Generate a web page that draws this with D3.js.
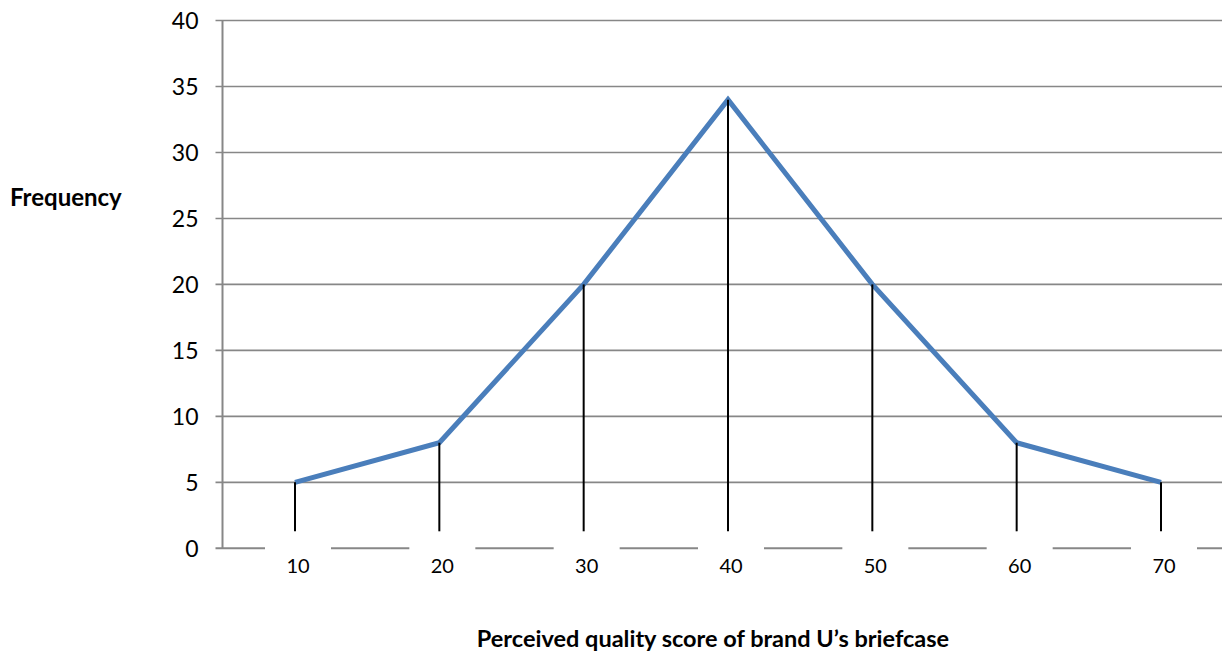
<!DOCTYPE html>
<html>
<head>
<meta charset="utf-8">
<script src="https://cdn.jsdelivr.net/npm/d3@7/dist/d3.min.js"></script>
<style>
  html, body { margin: 0; padding: 0; background: #fff; }
  svg { display: block; }
</style>
</head>
<body>
<svg id="chart" width="1224" height="664"></svg>
<script>
// Frequency polygon of quality scores
const scores = [10, 20, 30, 40, 50, 60, 70];
const frequencies = [5, 8, 20, 34, 20, 8, 5];
const yTicks = [0, 5, 10, 15, 20, 25, 30, 35, 40];
const xTickLabels = ["10", "20", "30", "40", "50", "60", "70"];
const xTitle = "Perceived quality score of brand U\u2019s briefcase";
const yTitle = "Frequency";

const svg = d3.select("#chart");
const font = "Lato, 'Open Sans', sans-serif";
const gridColor = "#878787";

const plot = { left: 222.5, right: 1222, top: 20.5, bottom: 548.3 };

const x = d3.scaleLinear().domain([10, 70]).range([295, 1161]);
const y = d3.scaleLinear().domain([0, 40]).range([plot.bottom, plot.top]);

// horizontal gridlines (the 0 line is the x-axis)
svg.append("g")
  .selectAll("line")
  .data(yTicks)
  .join("line")
  .attr("x1", plot.left - 7)
  .attr("x2", plot.right)
  .attr("y1", d => y(d))
  .attr("y2", d => y(d))
  .attr("stroke", gridColor)
  .attr("stroke-width", d => d === 0 ? 2 : 1.6);

// y-axis line
svg.append("line")
  .attr("x1", plot.left).attr("x2", plot.left)
  .attr("y1", plot.top).attr("y2", plot.bottom)
  .attr("stroke", gridColor)
  .attr("stroke-width", 2);

// y tick labels
const yAxis = d3.axisLeft(y).tickValues(yTicks).tickSize(0).tickPadding(0);
const gy = svg.append("g").attr("transform", `translate(${plot.left - 24},0)`).call(yAxis);
gy.select(".domain").remove();
gy.selectAll("text")
  .attr("font-family", font)
  .attr("font-size", 23)
  .attr("fill", "#000")
  .attr("dy", "0.36em");

// x tick labels sit on white boxes that break the axis line
const xLabels = svg.append("g")
  .selectAll("g")
  .data(scores)
  .join("g")
  .attr("transform", d => `translate(${x(d) + 3},${plot.bottom})`);

xLabels.append("rect")
  .attr("x", -33)
  .attr("y", -6)
  .attr("width", 66)
  .attr("height", 34)
  .attr("fill", "#fff");

xLabels.append("text")
  .text((d, i) => xTickLabels[i])
  .attr("text-anchor", "middle")
  .attr("y", 25)
  .attr("font-family", font)
  .attr("font-size", 20)
  .attr("fill", "#000");

// frequency polygon
const line = d3.line()
  .x((d, i) => x(scores[i]))
  .y(d => y(d));

svg.append("path")
  .datum(frequencies)
  .attr("d", line)
  .attr("fill", "none")
  .attr("stroke", "#4a7ebb")
  .attr("stroke-width", 5)
  .attr("stroke-linejoin", "miter");

// drop lines from each vertex
svg.append("g")
  .selectAll("line")
  .data(frequencies)
  .join("line")
  .attr("x1", (d, i) => x(scores[i]))
  .attr("x2", (d, i) => x(scores[i]))
  .attr("y1", d => y(d))
  .attr("y2", plot.bottom - 17)
  .attr("stroke", "#000")
  .attr("stroke-width", 2);

// axis titles
svg.append("text")
  .text(yTitle)
  .attr("x", 10)
  .attr("y", 206)
  .attr("font-family", font)
  .attr("font-weight", "bold")
  .attr("font-size", 24)
  .attr("fill", "#000");

svg.append("text")
  .text(xTitle)
  .attr("x", 713)
  .attr("y", 647)
  .attr("text-anchor", "middle")
  .attr("font-family", font)
  .attr("font-weight", "bold")
  .attr("font-size", 23.5)
  .attr("fill", "#000");
</script>
</body>
</html>
